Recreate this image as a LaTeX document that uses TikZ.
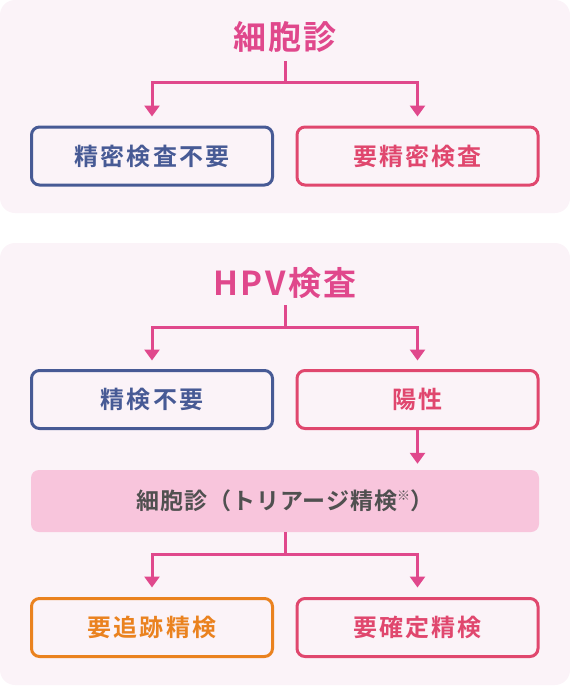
\documentclass[tikz,border=0pt]{standalone}
\usepackage{fontspec}
\setmainfont{Noto Sans CJK JP Bold}
\newfontfamily\ttlfont{Noto Sans CJK JP Bold}[LetterSpace=7]
\newfontfamily\boxfont{Noto Sans CJK JP Bold}[LetterSpace=9]
\newfontfamily\trifont{Noto Sans CJK JP Bold}[LetterSpace=4]
\usetikzlibrary{arrows.meta,calc}
\definecolor{panelbg}{HTML}{FBF3F8}
\definecolor{pinkA}{HTML}{E0488C}
\definecolor{blueB}{HTML}{475A95}
\definecolor{redB}{HTML}{E0476E}
\definecolor{orangeB}{HTML}{EA821F}
\definecolor{trifill}{HTML}{F8C5DC}
\definecolor{trigray}{HTML}{505050}
\tikzset{
  panel/.style={fill=panelbg, rounded corners=15pt},
  ttl/.style={inner sep=0pt, text=pinkA, font=\ttlfont\fontsize{33}{33}\selectfont, text height=29.0pt, text depth=4.0pt},
  rbox/.style={draw, line width=3pt, rounded corners=8pt, minimum width=241pt, minimum height=58pt, inner sep=0pt,
    font=\boxfont\fontsize{24}{24}\selectfont, text height=21.1pt, text depth=2.9pt},
  tribox/.style={fill=trifill, rounded corners=8pt, minimum width=508pt, minimum height=62pt, inner sep=0pt,
    text=trigray, font=\trifont\fontsize{23}{23}\selectfont, text height=20.2pt, text depth=2.8pt},
  conn/.style={draw=pinkA, line width=3pt},
  tip/.tip={Triangle[width=15pt,length=11pt]},
}
\begin{document}
\begin{tikzpicture}[x=1pt,y=-1pt]
\useasboundingbox (0,0) rectangle (570,686);
\fill[panel] (0,0) rectangle (570,213);
\fill[panel] (0,243) rectangle (570,685);
% panel 1
\node[ttl] (t1) at (285,37) {細胞診};
\node[rbox, draw=blueB, text=blueB] (a1) at (152,156) {精密検査不要};
\node[rbox, draw=redB, text=redB] (b1) at (417.5,156) {要精密検査};
\coordinate (s1) at (285,61);
\coordinate (j1) at (285,82.5);
\draw[conn] (s1) -- (j1);
\draw[conn, tip-tip, shorten <=9pt, shorten >=9pt] (a1.north) |- (j1) -| (b1.north);
% panel 2
\node[ttl] (t2) at (285,283) {HPV検査};
\node[rbox, draw=blueB, text=blueB] (a2) at (152,399.5) {精検不要};
\node[rbox, draw=redB, text=redB] (b2) at (417.5,399.5) {陽性};
\coordinate (s2) at (285,305);
\coordinate (j2) at (285,327);
\draw[conn] (s2) -- (j2);
\draw[conn, tip-tip, shorten <=8.5pt, shorten >=8.5pt] (a2.north) |- (j2) -| (b2.north);
\node[tribox] (tri) at (285,501) {細胞診（トリアージ精検\raisebox{0.42em}{\fontsize{13}{13}\selectfont ※}）};
\draw[conn, -tip, shorten >=6pt] (b2.south) -- (b2.south |- tri.north);
\node[rbox, draw=orangeB, text=orangeB] (a3) at (152,627.5) {要追跡精検};
\node[rbox, draw=redB, text=redB] (b3) at (417.5,627.5) {要確定精検};
\coordinate (j3) at (285,554);
\draw[conn] (tri.south) -- (j3);
\draw[conn, tip-tip, shorten <=9.5pt, shorten >=9.5pt] (a3.north) |- (j3) -| (b3.north);
\end{tikzpicture}
\end{document}
